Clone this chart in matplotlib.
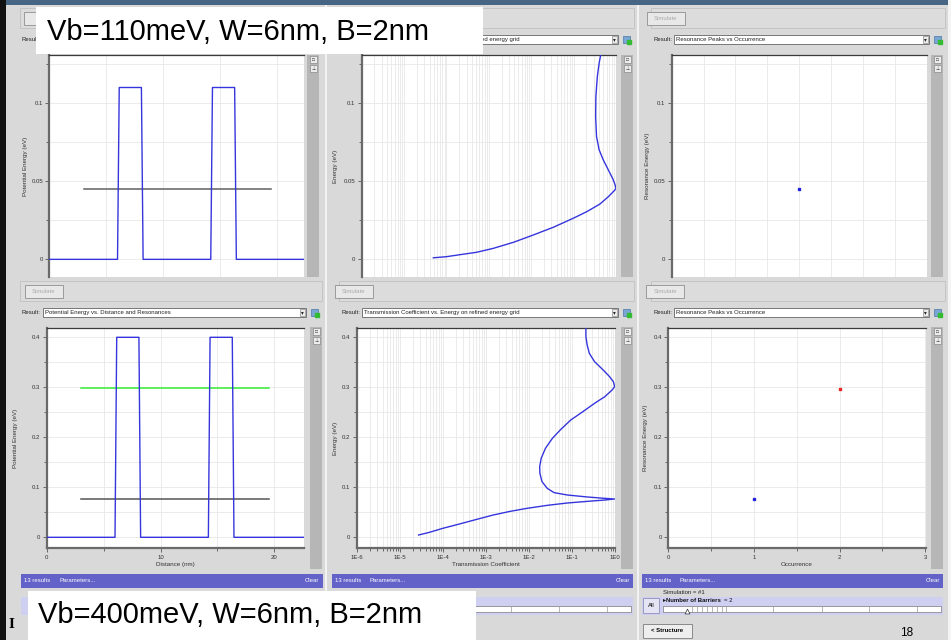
import matplotlib
matplotlib.use("Agg")
import matplotlib.pyplot as plt
from matplotlib.patches import Rectangle
from matplotlib.ticker import MultipleLocator, LogLocator, FuncFormatter, NullFormatter

plt.rcParams['font.family'] = ['Liberation Sans', 'DejaVu Sans']

# ---------------------------------------------------------------------------
# data: double barrier structure, W=6nm well, B=2nm barriers
dist = [0, 6.0, 6.15, 8.1, 8.25, 14.2, 14.35, 16.3, 16.45, 22.6]
pot_110 = [0, 0, 0.11, 0.11, 0, 0, 0.11, 0.11, 0, 0]
pot_400 = [0, 0, 0.40, 0.40, 0, 0, 0.40, 0.40, 0, 0]
res_span = [3.05, 19.5]
res_110 = [0.0453]
res_400 = [0.076, 0.298]
res_colors_110 = ['#606060']
res_colors_400 = ['#555555', '#33ee33']

# transmission coefficient vs energy (eV)
trans_110 = [4.9e-5, 1.0e-4, 2.1e-4, 5.1e-4, 1.26e-3, 3.8e-3, 1.12e-2, 3.3e-2,
             9.8e-2, 0.204, 0.417, 0.66, 0.89, 1.0, 0.955, 0.85, 0.66, 0.50,
             0.40, 0.347, 0.331, 0.335, 0.363, 0.40, 0.437]
energy_110 = [0.0010, 0.0017, 0.0030, 0.0045, 0.0070, 0.0109, 0.0156, 0.0205,
              0.0263, 0.0305, 0.0354, 0.0401, 0.0437, 0.0453, 0.0476, 0.0513,
              0.0572, 0.0637, 0.0701, 0.0786, 0.0914, 0.1042, 0.1171, 0.1256,
              0.1310]
trans_400 = [2.75e-5, 4.9e-5, 1.0e-4, 2.45e-4, 6.2e-4, 1.5e-3, 3.7e-3, 9.1e-3,
             2.7e-2, 7.9e-2, 0.234, 0.59, 1.0, 0.59, 0.234, 0.079, 0.039, 0.027,
             0.0204, 0.0182, 0.018, 0.0195, 0.0245, 0.0355, 0.056, 0.095, 0.182,
             0.339, 0.59, 0.87, 1.0, 0.93, 0.76, 0.54, 0.34, 0.257, 0.229,
             0.214, 0.214]
energy_400 = [0.0046, 0.0099, 0.0179, 0.0266, 0.0359, 0.0446, 0.0519, 0.0579,
              0.0639, 0.0686, 0.0719, 0.0746, 0.0766, 0.0779, 0.0806, 0.0846,
              0.0893, 0.0979, 0.1113, 0.1279, 0.1413, 0.1579, 0.1779, 0.1979,
              0.2159, 0.2346, 0.2513, 0.2679, 0.2813, 0.2946, 0.3013, 0.3113,
              0.3213, 0.3346, 0.3513, 0.3679, 0.3846, 0.4013, 0.418]
log_ticks = [1e-6, 1e-5, 1e-4, 1e-3, 1e-2, 1e-1, 1.0]
log_labels = ['1E-6', '1E-5', '1E-4', '1E-3', '1E-2', '1E-1', '1E0']

# resonance peaks vs occurrence
occ_110 = [1]
peak_110 = [0.0453]
peak_colors_110 = ['#2222dd']
occ_400 = [1, 2]
peak_400 = [0.076, 0.297]
peak_colors_400 = ['#2222dd', '#ee2222']

titles = ["Vb=110meV, W=6nm, B=2nm", "Vb=400meV, W=6nm, B=2nm"]
result_names = ["Potential Energy vs. Distance and Resonances",
                "Transmission Coefficient vs. Energy on refined energy grid",
                "Resonance Peaks vs Occurrence"]

# ---------------------------------------------------------------------------
W, H = 951, 640
fig = plt.figure(figsize=(W / 100, H / 100), dpi=100, facecolor='#d9d9d9')

# pixel canvas for the window chrome
bg = fig.add_axes([0, 0, 1, 1])
bg.set_xlim(0, W)
bg.set_ylim(H, 0)
bg.axis('off')

GUI = 4.3

# the caption boxes cover part of the window
hidden = [(36, 7, 483, 54), (28, 591, 476, 640)]


def covered(x, y):
    return any(hx0 <= x <= hx1 and hy0 <= y <= hy1
               for hx0, hy0, hx1, hy1 in hidden)


def box(x0, y0, x1, y1, fc, ec='none', lw=0.7, z=1):
    bg.add_patch(Rectangle((x0, y0), x1 - x0, y1 - y0, facecolor=fc,
                           edgecolor=ec, linewidth=lw, zorder=z))


def gui_text(x, y, s, long=False, **kw):
    # short labels that sit under a caption box are not drawn at all
    if covered(x, y) and not long:
        return None
    kw.setdefault('fontsize', GUI)
    kw.setdefault('color', '#222222')
    kw.setdefault('va', 'center')
    t = bg.text(x, y, s, **kw)
    # clip the rest so only the uncovered part shows
    for hx0, hy0, hx1, hy1 in hidden:
        if hy0 <= y <= hy1:
            if x < hx0:
                clip = Rectangle((0, 0), hx0, H, transform=bg.transData)
            elif x < hx1:
                clip = Rectangle((hx1, 0), W - hx1, H, transform=bg.transData)
            else:
                continue
            t.set_clip_path(clip)
    return t


def px_axes(x0, y0, x1, y1):
    return fig.add_axes([x0 / W, 1 - y1 / H, (x1 - x0) / W, (y1 - y0) / H])


# window frame
box(0, 0, W, 5, '#466684', z=2)
box(0, 0, 6, H, '#111111', z=2)
box(948, 0, W, H, '#f4f4f4', z=2)
for xs in (325, 637):
    box(xs, 5, xs + 1.5, H, '#f2f2f2', z=2)

cols = [(8, 325), (327, 637), (639, 948)]


def panel_chrome(col, top, name, sim_btn):
    x0, x1 = cols[col]
    # simulate bar
    box(x0 + 12, top + 2, x1 - 3, top + 22, '#dcdcdc', ec='#c4c4c4', z=2)
    bx = sim_btn
    box(bx, top + 6, bx + 38, top + 19, '#e8e8e8', ec='#9a9a9a', z=3)
    gui_text(bx + 19, top + 12.5, 'Simulate', color='#aaaaaa',
             ha='center', zorder=4)
    # result selector
    ry = top + 29
    gui_text(x0 + 14, ry + 4.5, 'Result:', ha='left', zorder=4)
    box(x0 + 35, ry, x1 - 19, ry + 9, 'white', ec='#777777', z=3)
    box(x1 - 25, ry + 1, x1 - 20, ry + 8, '#eeeeee', ec='#888888', lw=0.5, z=4)
    gui_text(x1 - 22.5, ry + 4.8, '\u25be', fontsize=4, ha='center', zorder=5)
    # a selector name is drawn when some of it shows past a caption
    gui_text(x0 + 37, ry + 4.5, name, long=not covered(x1 - 30, ry + 4.5),
             ha='left', zorder=4)
    box(x1 - 14, ry + 1, x1 - 7, ry + 8, '#7aa6d6', ec='#4a76a6', lw=0.5, z=4)
    bg.plot([x1 - 8.5], [ry + 6.5], 's', ms=2.2, color='#33bb33', zorder=5)


def side_strip(x0, y0, y1):
    box(x0, y0, x0 + 12, y1, '#b6b6b6', z=2)
    for k in range(2):
        box(x0 + 3, y0 + 1 + 9 * k, x0 + 10, y0 + 8 + 9 * k, '#ececec',
            ec='#8a8a8a', lw=0.5, z=3)
    bg.text(x0 + 6.5, y0 + 4.5, '\u25a1', fontsize=3.5, ha='center',
            va='center', zorder=4, color='#333333')
    bg.text(x0 + 6.5, y0 + 13.5, '\u22a5', fontsize=3.5, ha='center',
            va='center', zorder=4, color='#333333')


# top row (upper part of window)
for c, sx in zip(range(3), (24, 335, 647)):
    panel_chrome(c, 6, result_names[c], sx)
side_strip(307, 55, 277)
side_strip(621, 55, 277)
side_strip(931, 55, 277)

# bottom row
for c, sx in zip(range(3), (25, 335, 646)):
    panel_chrome(c, 279, result_names[c], sx)
side_strip(310, 327, 569)
side_strip(621, 327, 569)
side_strip(931, 327, 569)

# status bars and sliders
for (x0, x1) in ((21, 322.5), (332, 633), (642, 943)):
    box(x0, 574, x1, 587.5, '#6262c8', z=2)
    bg.text(x0 + 3, 581, '13 results', fontsize=GUI, color='white',
            va='center', zorder=3)
    bg.text(x0 + 38, 581, 'Parameters...', fontsize=GUI, color='white',
            va='center', zorder=3)
    bg.text(x1 - 3, 581, 'Clear', fontsize=GUI, color='white', ha='right',
            va='center', zorder=3)
    box(x0, 597, x1, 615, '#cfcff2', z=2)
    box(x0 + 21, 606, x1 - 2, 612, 'white', ec='#777777', lw=0.5, z=3)

for xt in [511, 559, 607]:
    bg.plot([xt, xt], [606, 612], color='#999999', lw=0.5, zorder=4)
slider_marks = [692, 697, 702, 707, 712, 717, 722, 726, 773, 822, 869, 917]
for xt in slider_marks:
    bg.plot([xt, xt], [606, 612], color='#999999', lw=0.5, zorder=4)
bg.plot([687], [611], marker='^', ms=3.5, color='white', mec='#333333',
        mew=0.5, zorder=5)
box(643, 598, 659, 613, '#e4e4f4', ec='#9a9ac0', z=4)
bg.text(651, 605.5, 'All', fontsize=GUI, ha='center', va='center', zorder=5)
bg.text(663, 593, 'Simulation = #1', fontsize=GUI, color='#222222',
        va='center', zorder=4)
bg.text(663, 601, '\u25b8Number of Barriers', fontsize=GUI, fontweight='bold',
        color='#111111', va='center', zorder=4)
bg.text(724, 601, '= 2', fontsize=GUI, color='#111111', va='center', zorder=4)
box(643, 624, 692, 638, '#eeeeee', ec='#8a8a8a', z=4)
bg.text(667.5, 631, '< Structure', fontsize=GUI, fontweight='bold',
        ha='center', va='center', zorder=5)
bg.text(907, 633, '18', fontsize=8.5, ha='center', va='center', zorder=5)
bg.text(11, 624, 'I', fontsize=11, family='Liberation Serif',
        fontweight='bold', ha='center', va='center', zorder=5)

# ---------------------------------------------------------------------------
fmt = FuncFormatter(lambda v, p: '%g' % round(v, 6))


def style(ax, cut):
    ax.set_facecolor('white')
    ax.spines['right'].set_visible(False)
    ax.spines['top'].set_color('#3a3a3a')
    ax.spines['top'].set_linewidth(0.9)
    for s in ('left', 'bottom'):
        ax.spines[s].set_color('#6a6a6a')
        ax.spines[s].set_linewidth(1.6)
    ax.tick_params(which='both', direction='out', color='#555555',
                   labelsize=4.3, labelcolor='#333333', pad=1.5, width=0.6)
    ax.tick_params(which='major', length=3)
    ax.tick_params(which='minor', length=2)
    ax.grid(True, which='both', color='#e8e8e8', lw=0.6)
    ax.set_axisbelow(True)
    ax.yaxis.set_major_formatter(fmt)
    if cut:
        ax.spines['bottom'].set_visible(False)
        ax.tick_params(axis='x', which='both', bottom=False, labelbottom=False)
    elif ax.get_xscale() == 'linear':
        ax.xaxis.set_major_formatter(fmt)


def ylab(ax, text, xpix):
    ax.set_ylabel(text, fontsize=4.5, color='#333333', va='center')
    x0 = ax.get_position().x0 * W
    w = ax.get_position().width * W
    ax.yaxis.set_label_coords((xpix - x0) / w, 0.5)


def xlab(ax, text):
    ax.set_xlabel(text, fontsize=4.5, color='#333333', labelpad=1.5)


blue = '#3535dd'
rows = [
    dict(pot=pot_110, res=res_110, rc=res_colors_110, T=trans_110,
         E=energy_110, occ=occ_110, pk=peak_110, pc=peak_colors_110,
         ylim=(-0.0113, 0.1308), major=0.05, minor=0.025, cut=True,
         rects=[(49.3, 55, 304, 277), (361.7, 55, 616, 277),
                (671.7, 55, 926.7, 277)],
         dxlim=(0, 22.4), oxlim=(0, 2), ominor=0.25, labx=[25, 336, 648]),
    dict(pot=pot_400, res=res_400, rc=res_colors_400, T=trans_400,
         E=energy_400, occ=occ_400, pk=peak_400, pc=peak_colors_400,
         ylim=(-0.022, 0.4192), major=0.1, minor=0.05, cut=False,
         rects=[(46.7, 327.7, 304, 548.3), (356.7, 327.7, 614.7, 548.3),
                (668.3, 327.7, 926, 548.3)],
         dxlim=(0, 22.6), oxlim=(0, 3.01), ominor=0.5, labx=[15, 335, 646]),
]

for r in rows:
    a1, a2, a3 = [px_axes(*rc) for rc in r['rects']]

    # potential profile with resonance levels
    a1.plot(dist, r['pot'], color=blue, lw=1.0, zorder=3)
    for e, c in zip(r['res'], r['rc']):
        a1.plot(res_span, [e, e], color=c, lw=1.1, zorder=2)
    a1.set_xlim(*r['dxlim'])
    a1.xaxis.set_major_locator(MultipleLocator(10))
    a1.xaxis.set_minor_locator(MultipleLocator(5))

    # transmission coefficient, log scale
    a2.plot(r['T'], r['E'], color=blue, lw=1.0, zorder=3)
    a2.set_xscale('log')
    a2.set_xlim(1e-6, 1.0)
    a2.set_xticks(log_ticks, labels=log_labels)
    a2.xaxis.set_minor_locator(LogLocator(base=10, subs=range(2, 10)))
    a2.xaxis.set_minor_formatter(NullFormatter())

    # resonance peaks vs occurrence
    for o, p, c in zip(r['occ'], r['pk'], r['pc']):
        a3.plot([o], [p], 's', ms=2.0, color=c, zorder=3)
    a3.set_xlim(*r['oxlim'])
    a3.xaxis.set_major_locator(MultipleLocator(1))
    a3.xaxis.set_minor_locator(MultipleLocator(r['ominor']))

    for ax in (a1, a2, a3):
        ax.set_ylim(*r['ylim'])
        ax.yaxis.set_major_locator(MultipleLocator(r['major']))
        ax.yaxis.set_minor_locator(MultipleLocator(r['minor']))
        style(ax, r['cut'])
    if not r['cut']:
        xlab(a1, 'Distance (nm)')
        xlab(a2, 'Transmission Coefficient')
        xlab(a3, 'Occurrence')
    for ax, lab, xp in zip((a1, a2, a3), ('Potential Energy (eV)', 'Energy (eV)',
                                          'Resonance Energy (eV)'), r['labx']):
        ylab(ax, lab, xp)

# parameter captions on top of everything
top = fig.add_axes([0, 0, 1, 1], facecolor='none')
top.set_xlim(0, W)
top.set_ylim(H, 0)
top.axis('off')
for (hx0, hy0, hx1, hy1), title, tx, ty in zip(hidden, titles, (47, 38),
                                                (31.5, 615)):
    top.add_patch(Rectangle((hx0, hy0), hx1 - hx0, hy1 - hy0,
                            facecolor='white', edgecolor='none'))
    top.text(tx, ty, title, fontsize=21, ha='left', va='center', color='black')

fig.savefig('out.png', dpi=100, facecolor=fig.get_facecolor())
